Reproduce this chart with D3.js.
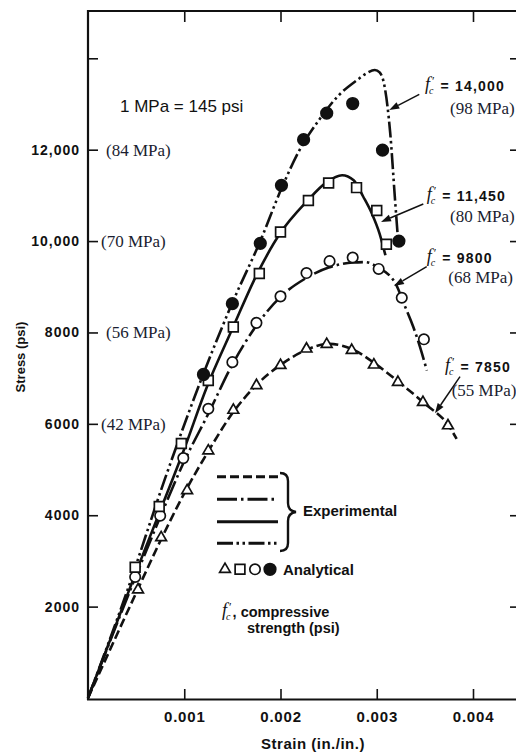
<!DOCTYPE html>
<html><head><meta charset="utf-8">
<script src="https://cdn.jsdelivr.net/npm/d3@7"></script>
<style>
body{margin:0;background:#fff;}
svg{display:block;}
</style></head><body>
<script>
// ---------- data ----------
const xTicks = [0.001, 0.002, 0.003, 0.004];
const xTickLabels = ["0.001", "0.002", "0.003", "0.004"];
const yTicks = [2000, 4000, 6000, 8000, 10000, 12000, 14000];
const yTickLabels = ["2000", "4000", "6000", "8000", "10,000", "12,000", ""];
const mpaTicks = [6000, 8000, 10000, 12000];
const mpaLabels = ["(42 MPa)", "(56 MPa)", "(70 MPa)", "(84 MPa)"];
const seriesNames = ["7850", "9800", "11,450", "14,000"];
const seriesMPa = ["(55 MPa)", "(68 MPa)", "(80 MPa)", "(98 MPa)"];

// experimental curves [strain, stress psi]
const exp7850 = [[0,0],[0.0005,2300],[0.00075,3430],[0.001,4480],[0.00125,5400],[0.0015,6230],[0.00175,6850],[0.002,7290],[0.00225,7600],[0.0025,7750],[0.00275,7630],[0.003,7290],[0.00325,6880],[0.0035,6440],[0.00375,5950],[0.00383,5670]];
const exp9800 = [[0,0],[0.0005,2680],[0.00075,3960],[0.001,5180],[0.00125,6220],[0.0015,7300],[0.00175,8150],[0.002,8780],[0.00225,9170],[0.0025,9420],[0.00275,9530],[0.00288,9540],[0.003,9440],[0.0032,9050],[0.00328,8640],[0.00338,8120],[0.00345,7680],[0.00352,7170]];
const exp11450 = [[0,0],[0.0005,2760],[0.00075,4100],[0.001,5450],[0.00123,6780],[0.0015,8080],[0.00175,9250],[0.002,10180],[0.00227,10860],[0.00248,11290],[0.00264,11440],[0.00276,11330],[0.00286,10970],[0.00295,10600],[0.00303,10160],[0.00309,9690]];
const exp14000 = [[0,0],[0.0004,2300],[0.0008,4800],[0.0012,7100],[0.0015,8650],[0.0018,10050],[0.002,11100],[0.0022,12000],[0.0024,12650],[0.0026,13180],[0.0028,13530],[0.0029,13680],[0.00298,13745],[0.00303,13690],[0.00308,13400],[0.00314,12360],[0.00319,10900],[0.00322,10060]];

// analytical points
const ana7850 = [[0.00052,2370],[0.00076,3510],[0.00103,4540],[0.00125,5410],[0.00151,6300],[0.00175,6840],[0.002,7280],[0.00227,7640],[0.00248,7740],[0.00274,7610],[0.00297,7290],[0.00322,6910],[0.00348,6470],[0.00374,5960]];
const ana9800 = [[0.00049,2650],[0.00075,3990],[0.00099,5250],[0.00125,6330],[0.0015,7350],[0.00175,8210],[0.002,8790],[0.00227,9300],[0.00251,9560],[0.00275,9640],[0.00302,9390],[0.00326,8760],[0.00349,7850]];
const ana11450 = [[0.00049,2860],[0.00074,4190],[0.00097,5570],[0.00125,6950],[0.00151,8120],[0.00178,9290],[0.002,10200],[0.00229,10890],[0.0025,11270],[0.00279,11170],[0.003,10670],[0.0031,9930]];
const ana14000 = [[0.0012,7080],[0.0015,8630],[0.00179,9950],[0.00201,11220],[0.00224,12220],[0.00248,12800],[0.00275,13010],[0.00306,11990],[0.00323,10000]];

// arrow tips of the f'c callouts [strain, stress]
const arrowTips = [[0.003605,6231],[0.003179,9017],[0.003044,10418],[0.00313,12869]];

// ---------- drawing ----------
const W = 516, H = 754;
const svg = d3.select("body").append("svg").attr("width", W).attr("height", H)
  .style("font-family", "'Liberation Sans', Arial, sans-serif");

const x = d3.scaleLinear().domain([0, 0.004]).range([88, 473]);
const y = d3.scaleLinear().domain([0, 14000]).range([698, 58.3]);
const ink = "#111";
const mpaInk = "#1a1d30";
const serif = "'Liberation Serif', 'Times New Roman', serif";

// frame
svg.append("path").attr("d", "M88,11 H520 M88,10 V700 M87,699.5 H520")
  .attr("stroke", ink).attr("stroke-width", 2.2).attr("fill", "none");

function styleAxis(g) {
  g.select(".domain").remove();
  g.selectAll(".tick line").attr("stroke", ink).attr("stroke-width", 1.6);
}
// left axis
svg.append("g").attr("transform", "translate(88,0)")
  .call(d3.axisLeft(y).tickValues(yTicks).tickSize(-10).tickPadding(8)
    .tickFormat((d, i) => yTickLabels[i]))
  .call(styleAxis)
  .call(g => g.selectAll("text").attr("fill", ink).style("font-size", "14px")
    .style("font-weight", "bold").style("letter-spacing", "1px")
    .style("font-family", "'Liberation Sans', Arial, sans-serif"));
// right ticks
svg.append("g").attr("transform", "translate(520,0)")
  .call(d3.axisRight(y).tickValues(yTicks).tickSize(-10).tickFormat(""))
  .call(styleAxis);
// bottom axis
svg.append("g").attr("transform", "translate(0,699)")
  .call(d3.axisBottom(x).tickValues(xTicks).tickSize(-10).tickPadding(12)
    .tickFormat((d, i) => xTickLabels[i]))
  .call(styleAxis)
  .call(g => g.selectAll("text").attr("fill", ink).style("font-size", "15px")
    .style("font-weight", "bold").style("letter-spacing", "0.8px")
    .style("font-family", "'Liberation Sans', Arial, sans-serif"));
// top ticks
svg.append("g").attr("transform", "translate(0,11)")
  .call(d3.axisTop(x).tickValues(xTicks).tickSize(-11).tickFormat(""))
  .call(styleAxis);

// axis titles
svg.append("text").attr("x", 313).attr("y", 749).attr("text-anchor", "middle")
  .style("font-size", "15px").style("font-weight", "bold").style("letter-spacing", "0.5px")
  .attr("fill", ink).text("Strain (in./in.)");
svg.append("text").attr("transform", "translate(25,357) rotate(-90)").attr("text-anchor", "middle")
  .style("font-size", "13px").style("font-weight", "bold").attr("fill", ink).text("Stress (psi)");

// MPa equivalents on left
svg.selectAll(".mpa").data(mpaTicks).enter().append("text")
  .attr("x", (d, i) => 101 + (i % 2) * 5).attr("y", d => y(d)).attr("dy", "0.35em")
  .style("font-family", serif).style("font-size", "17px")
  .attr("fill", mpaInk).text((d, i) => mpaLabels[i]);

svg.append("text").attr("x", 120).attr("y", 112).style("font-size", "17px").attr("fill", ink)
  .text("1 MPa = 145 psi");

// curves
const line = d3.line().x(d => x(d[0])).y(d => y(d[1])).curve(d3.curveMonotoneX);
const expSeries = [exp7850, exp9800, exp11450, exp14000];
const dashes = ["9,4", "20,4,2.5,4", null, "16,3.5,2.5,3.5,2.5,3.5"];
expSeries.forEach((s, i) => {
  svg.append("path").attr("d", line(s)).attr("fill", "none").attr("stroke", ink)
    .attr("stroke-width", 2.6).attr("stroke-dasharray", dashes[i]);
});

// markers
const symTypes = [d3.symbolTriangle, d3.symbolSquare, d3.symbolCircle, d3.symbolCircle];
const symSizes = [50, 95, 85, 105];
const symFill = ["#fff", "#fff", "#fff", ink];
const anaSeries = [ana7850, ana9800, ana11450, ana14000];
const anaSym = [0, 2, 1, 3]; // 7850 triangles, 9800 circles, 11450 squares, 14000 dots
anaSeries.forEach((s, i) => {
  const k = anaSym[i];
  const sym = d3.symbol().type(symTypes[k]).size(symSizes[k]);
  svg.selectAll(".m" + i).data(s).enter().append("path")
    .attr("transform", d => `translate(${x(d[0])},${y(d[1])})`)
    .attr("d", sym).attr("fill", symFill[k]).attr("stroke", ink).attr("stroke-width", 1.7);
});

// f'c label as one text element with tspans
function fcText(g, fx, cy, rest, restSize, restSpacing) {
  const t = g.append("text").attr("x", fx).attr("y", cy + 4).attr("fill", ink);
  t.append("tspan").style("font-family", serif).style("font-style", "italic")
    .style("font-size", "18px").text("f");
  t.append("tspan").attr("dx", -1).attr("dy", 4).style("font-family", serif)
    .style("font-style", "italic").style("font-size", "10px").text("c");
  t.append("tspan").attr("dx", -1.5).attr("dy", -9).style("font-family", serif)
    .style("font-size", "12px").text("′");
  t.append("tspan").attr("dx", restSpacing).attr("dy", 6)
    .style("font-family", "'Liberation Sans', Arial, sans-serif")
    .style("font-size", restSize).style("font-weight", "bold")
    .style("letter-spacing", rest.startsWith("=") ? "1.2px" : "0px").text(rest);
  return t;
}

// callouts
const labelPos = [
  {fx: 445, cy: 366.7, mx: 451.7, my: 390, tx: 460, ty: 376.7},
  {fx: 426.7, cy: 258.3, mx: 448.3, my: 276.7, tx: 426.7, ty: 266.7},
  {fx: 426.7, cy: 196, mx: 450, my: 216, tx: 423.3, ty: 204},
  {fx: 425, cy: 86, mx: 450, my: 108, tx: 419.3, ty: 94.3}
];
seriesNames.forEach((name, i) => {
  const p = labelPos[i];
  const g = svg.append("g");
  fcText(g, p.fx, p.cy, "= " + name, "14px", 6);
  g.append("text").attr("x", p.mx).attr("y", p.my).attr("dy", "0.35em")
    .style("font-family", serif).style("font-size", "17px")
    .attr("fill", mpaInk).text(seriesMPa[i]);
  // arrow
  const tip = [x(arrowTips[i][0]), y(arrowTips[i][1])];
  const ang = Math.atan2(tip[1] - p.ty, tip[0] - p.tx);
  const L = 10, hw = 3.5;
  const bx = tip[0] - L * Math.cos(ang), by = tip[1] - L * Math.sin(ang);
  g.append("line").attr("x1", p.tx).attr("y1", p.ty).attr("x2", bx).attr("y2", by)
    .attr("stroke", ink).attr("stroke-width", 1.5);
  g.append("path").attr("d",
    `M${tip[0]},${tip[1]} L${bx + hw * Math.sin(ang)},${by - hw * Math.cos(ang)} L${bx - hw * Math.sin(ang)},${by + hw * Math.cos(ang)} Z`)
    .attr("fill", ink);
});

// legend
const legYs = [476.7, 499.3, 521.7, 543.3];
[0, 1, 2, 3].forEach((k, i) => {
  svg.append("line").attr("x1", 217).attr("x2", 278).attr("y1", legYs[i]).attr("y2", legYs[i])
    .attr("stroke", ink).attr("stroke-width", 3).attr("stroke-dasharray", dashes[k]);
});
svg.append("path")
  .attr("d", "M280,473 Q288,473 288,481 L288,503 Q288,511 296,512 Q288,513 288,521 L288,543 Q288,551 280,551")
  .attr("fill", "none").attr("stroke", ink).attr("stroke-width", 2.4);
svg.append("text").attr("x", 303).attr("y", 515.5).style("font-size", "15px").style("font-weight", "bold")
  .attr("fill", ink).text("Experimental");

const legSymX = [225, 240, 255, 270];
[0, 1, 2, 3].forEach(k => {
  svg.append("path").attr("transform", `translate(${legSymX[k]},569.3)`)
    .attr("d", d3.symbol().type(symTypes[k]).size(symSizes[k])())
    .attr("fill", symFill[k]).attr("stroke", ink).attr("stroke-width", 1.7);
});
svg.append("text").attr("x", 283).attr("y", 574.5).style("font-size", "15px").style("font-weight", "bold")
  .attr("fill", ink).text("Analytical");

const lg = svg.append("g");
fcText(lg, 222, 611.7, ", compressive", "14.5px", 1);
lg.append("text").attr("x", 247).attr("y", 633).style("font-size", "14.5px").style("font-weight", "bold")
  .attr("fill", ink).text("strength (psi)");
</script>
</body></html>
